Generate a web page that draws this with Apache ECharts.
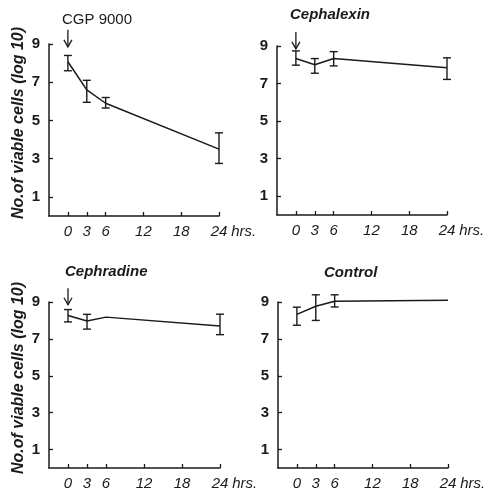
<!DOCTYPE html>
<html>
<head>
<meta charset="utf-8">
<script src="https://cdn.jsdelivr.net/npm/echarts@6/dist/echarts.min.js"></script>
<style>
  html, body { margin: 0; padding: 0; background: #fff; }
  #main { width: 492px; height: 491px; }
</style>
</head>
<body>
<div id="main"></div>
<script>
// sampling times (hrs) and tick labels
const hours = [0, 3, 6, 24];
const xTicks = [0, 3, 6, 12, 18, 24];
const yTicks = [1, 3, 5, 7, 9];

// log10 viable cells: mean, lower and upper error limits
const cgpMean = [8.07, 6.6, 5.9, 3.5];
const cgpLow = [7.6, 5.95, 5.65, 2.75];
const cgpHigh = [8.4, 7.1, 6.2, 4.35];

const cephalexinMean = [8.33, 8.0, 8.33, 7.84];
const cephalexinLow = [7.98, 7.55, 7.94, 7.22];
const cephalexinHigh = [8.74, 8.33, 8.7, 8.37];

const cephradineMean = [8.27, 7.97, 8.18, 7.7];
const cephradineLow = [7.92, 7.53, null, 7.23];
const cephradineHigh = [8.59, 8.33, null, 8.34];

const controlMean = [8.33, 8.77, 9.04, 9.1];
const controlLow = [7.74, 8.0, 8.73, null];
const controlHigh = [8.72, 9.39, 9.39, null];

const panels = [
  { name: 'CGP 9000', mean: cgpMean, low: cgpLow, high: cgpHigh, arrow: true, yName: true,
    grid: { left: 49, top: 44, right: 273, bottom: 275 }, title: { left: 62, top: 12 }, italic: false },
  { name: 'Cephalexin', mean: cephalexinMean, low: cephalexinLow, high: cephalexinHigh, arrow: true, yName: false,
    grid: { left: 277, top: 46, right: 45, bottom: 276 }, title: { left: 290, top: 7 }, italic: true },
  { name: 'Cephradine', mean: cephradineMean, low: cephradineLow, high: cephradineHigh, arrow: true, yName: true,
    grid: { left: 49, top: 302, right: 272, bottom: 20 }, title: { left: 65, top: 264 }, italic: true },
  { name: 'Control', mean: controlMean, low: controlLow, high: controlHigh, arrow: false, yName: false,
    grid: { left: 278, top: 302, right: 44, bottom: 20 }, title: { left: 324, top: 265 }, italic: true }
];

const ink = '#1a1a1a';
const font = 'Liberation Sans';

function errorBars(params, api) {
  const top = api.coord([api.value(0), api.value(2)]);
  const bot = api.coord([api.value(0), api.value(1)]);
  const w = 4;
  const style = { stroke: ink, lineWidth: 1.4 };
  return {
    type: 'group',
    children: [
      { type: 'line', shape: { x1: top[0], y1: top[1], x2: bot[0], y2: bot[1] }, style },
      { type: 'line', shape: { x1: top[0] - w, y1: top[1], x2: top[0] + w, y2: top[1] }, style },
      { type: 'line', shape: { x1: bot[0] - w, y1: bot[1], x2: bot[0] + w, y2: bot[1] }, style }
    ]
  };
}

function arrow(params, api) {
  const a = api.coord([api.value(0), api.value(1)]);
  const b = api.coord([api.value(0), api.value(2)]);
  return {
    type: 'group',
    children: [
      { type: 'line', shape: { x1: a[0], y1: a[1], x2: b[0], y2: b[1] }, style: { stroke: ink, lineWidth: 1.3 } },
      { type: 'polyline', shape: { points: [[b[0] - 4, b[1] - 7], [b[0], b[1]], [b[0] + 4, b[1] - 7]] },
        style: { stroke: ink, lineWidth: 1.3, fill: null } }
    ]
  };
}

const option = {
  backgroundColor: '#fff',
  animation: false,
  title: panels.map(p => ({
    text: p.name,
    left: p.title.left,
    top: p.title.top,
    padding: 0,
    textStyle: { fontFamily: font, fontSize: 15, fontWeight: p.italic ? 'bold' : 'normal',
      fontStyle: p.italic ? 'italic' : 'normal', color: ink }
  })),
  grid: panels.map(p => p.grid),
  xAxis: panels.map((p, i) => ({
    type: 'value', gridIndex: i, min: -3, max: 24,
    name: 'hrs.', nameLocation: 'end', nameGap: 1,
    nameTextStyle: { fontFamily: font, fontSize: 15, fontStyle: 'italic', color: ink,
      align: 'left', verticalAlign: 'top', padding: [8, 0, 0, 0] },
    axisLine: { onZero: false, lineStyle: { color: ink, width: 1.5 } },
    axisTick: { inside: true, length: 4, customValues: xTicks, lineStyle: { color: ink, width: 1.3 } },
    splitLine: { show: false },
    axisLabel: {
      customValues: xTicks, margin: 8, color: ink, fontFamily: font, fontSize: 15,
      fontStyle: 'italic', showMaxLabel: true
    }
  })),
  yAxis: panels.map((p, i) => ({
    type: 'value', gridIndex: i, min: 0, max: 9,
    name: p.yName ? 'No.of viable cells (log 10)' : '',
    nameLocation: 'middle', nameRotate: 90, nameGap: 22,
    nameTextStyle: { fontFamily: font, fontSize: 16, fontWeight: 'bold', fontStyle: 'italic', color: ink,
      padding: [0, 0, 0, 14] },
    axisLine: { show: true, onZero: false, lineStyle: { color: ink, width: 1.5 } },
    axisTick: { show: true, inside: true, length: 4, customValues: yTicks, lineStyle: { color: ink, width: 1.3 } },
    splitLine: { show: false },
    axisLabel: { customValues: yTicks, margin: 9, color: ink, fontFamily: font, fontSize: 15, fontWeight: 'bold' }
  })),
  series: panels.flatMap((p, i) => {
    const out = [
      {
        type: 'line', xAxisIndex: i, yAxisIndex: i, clip: false,
        data: hours.map((h, k) => [h, p.mean[k]]),
        symbol: 'none', lineStyle: { color: ink, width: 1.5 }
      },
      {
        type: 'custom', xAxisIndex: i, yAxisIndex: i, clip: false,
        renderItem: errorBars, encode: { x: 0, y: [1, 2] },
        data: hours.map((h, k) => [h, p.low[k], p.high[k]]).filter(d => d[1] != null)
      }
    ];
    if (p.arrow) {
      out.push({
        type: 'custom', xAxisIndex: i, yAxisIndex: i, clip: false,
        renderItem: arrow, encode: { x: 0, y: [1, 2] },
        data: [[0, 9.75, 8.85]]
      });
    }
    return out;
  })
};

const chart = echarts.init(document.getElementById('main'), null, { renderer: 'canvas' });
chart.setOption(option);
</script>
</body>
</html>
